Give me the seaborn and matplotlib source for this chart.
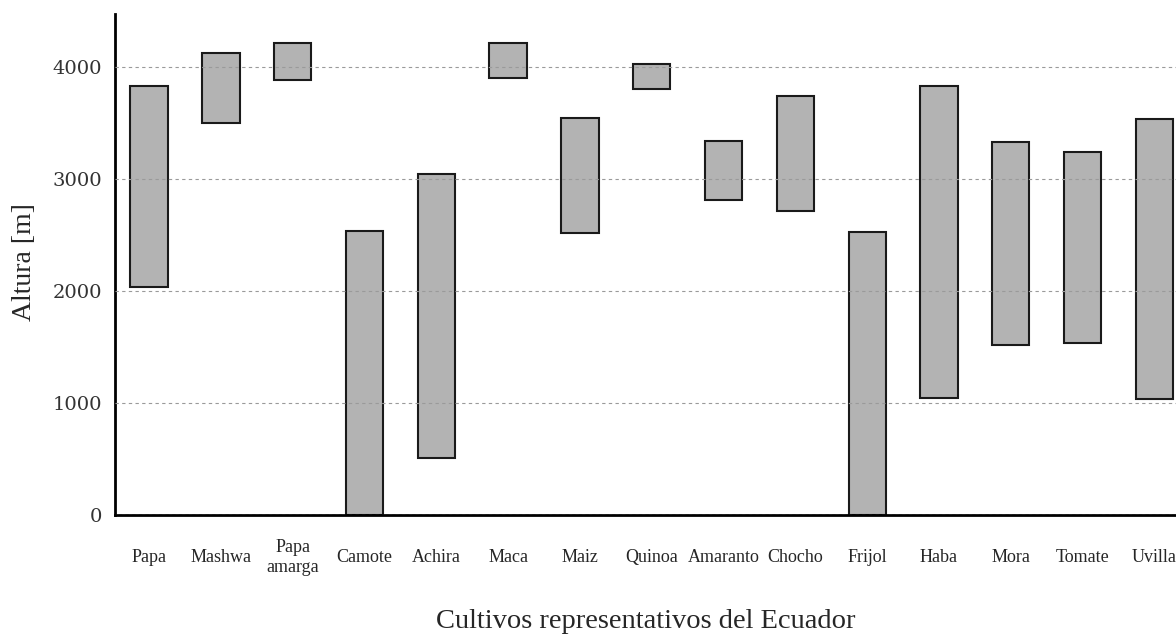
import pandas as pd
import seaborn as sns
import matplotlib.pyplot as plt

# Data (altitude ranges in metres)
crops = ["Papa", "Mashwa", "Papa\namarga", "Camote", "Achira", "Maca", "Maiz",
         "Quinoa", "Amaranto", "Chocho", "Frijol", "Haba", "Mora", "Tomate", "Uvilla"]
alt_low = [2035, 3495, 3885, 0, 515, 3900, 2515, 3800, 2815, 2710, 0, 1050, 1520, 1540, 1040]
alt_high = [3825, 4125, 4215, 2535, 3040, 4215, 3545, 4025, 3335, 3735, 2530, 3830, 3330, 3240, 3535]

df = pd.DataFrame({"Cultivo": crops, "Bajo": alt_low, "Alto": alt_high})
df["Rango"] = df["Alto"] - df["Bajo"]

sns.set_style("white")
plt.rcParams["font.family"] = ["Liberation Serif", "DejaVu Serif"]

fig = plt.figure(figsize=(11.76, 6.35), dpi=100)
ax = fig.add_axes([0.0974, 0.1882, 0.9026, 0.7898])

sns.barplot(data=df, x="Cultivo", y="Rango", order=crops, color="#b3b3b3",
            edgecolor="#1a1a1a", linewidth=1.5, width=0.52, errorbar=None,
            saturation=1, ax=ax)

# shift each bar so it floats between the low and high altitude
for patch, lo in zip(ax.patches, df["Bajo"]):
    patch.set_y(lo)

ax.set_ylim(0, 4470)
ax.set_xlim(-0.48, 14.3)
ax.set_yticks([0, 1000, 2000, 3000, 4000])
ax.yaxis.grid(True, linestyle=(0, (3, 3)), color="#9a9a9a", linewidth=0.8)
ax.set_axisbelow(False)

sns.despine(ax=ax)
for side in ["left", "bottom"]:
    ax.spines[side].set_linewidth(2)
    ax.spines[side].set_color("black")

ax.tick_params(axis="x", length=0, pad=30.5, labelsize=13)
ax.tick_params(axis="y", length=0, pad=9, labelsize=14)
for lbl in ax.get_xticklabels():
    lbl.set_va("center")
    lbl.set_multialignment("center")
    lbl.set_linespacing(1.25)
for lbl in ax.get_yticklabels():
    lbl.set_family("DejaVu Serif")
    lbl.set_color("#333333")

ax.set_xlabel("Cultivos representativos del Ecuador", fontsize=20.5, va="center")
ax.xaxis.set_label_coords(0.5, -0.212)
ax.set_ylabel("Altura [m]", fontsize=20, va="center")
ax.yaxis.set_label_coords(-0.0853, 0.505)

plt.savefig("out.png", dpi=100)
